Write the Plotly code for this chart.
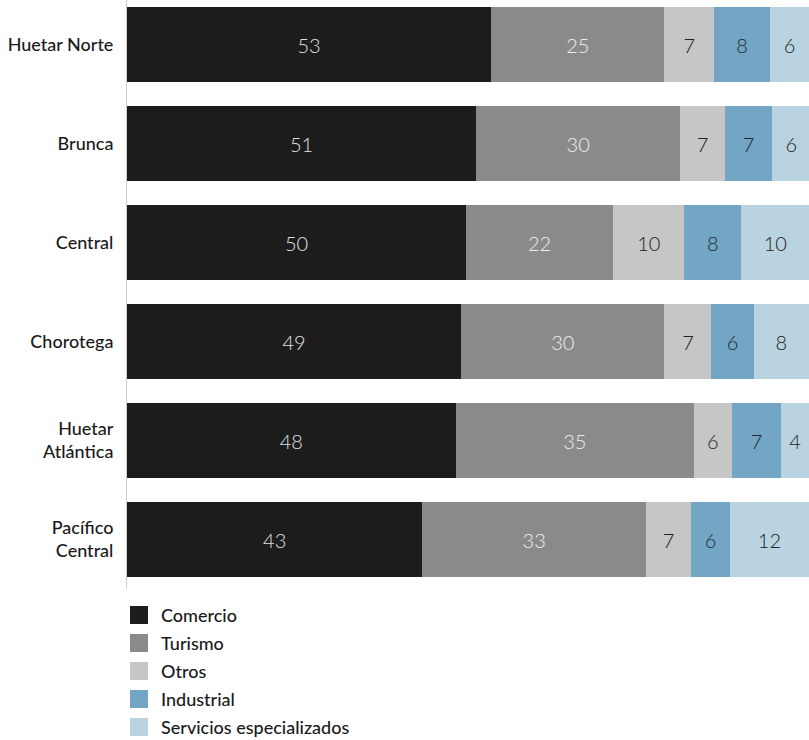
import plotly.graph_objects as go

regions = ["Huetar Norte", "Brunca", "Central", "Chorotega", "Huetar<br>Atlántica", "Pacífico<br>Central"]
series_names = ["Comercio", "Turismo", "Otros", "Industrial", "Servicios especializados"]
comercio = [53.4, 51.2, 49.7, 49.0, 48.2, 43.3]
turismo = [25.4, 29.9, 21.6, 29.8, 34.9, 32.8]
otros = [7.3, 6.6, 10.4, 6.9, 5.6, 6.6]
industrial = [8.2, 6.9, 8.4, 6.2, 7.2, 5.7]
servicios = [5.7, 5.6, 9.9, 8.1, 4.1, 11.6]
series_values = [comercio, turismo, otros, industrial, servicios]
colors = ["#1c1c1c", "#8a8a8a", "#c6c6c6", "#72a6c4", "#b9d3e0"]
text_colors = ["#e0e0e0", "#eeeeee", "#222222", "#1f2a33", "#222222"]

FONT = "Lato, Roboto, sans-serif"

fig = go.Figure()
for name, vals, col, tcol in zip(series_names, series_values, colors, text_colors):
    fig.add_trace(go.Bar(
        y=regions, x=vals, name=name, orientation="h",
        marker=dict(color=col, line=dict(width=0)),
        texttemplate="%{x:.0f}", textposition="inside", insidetextanchor="middle",
        textangle=0,
        textfont=dict(family=FONT, size=20, color=tcol, weight=300),
        showlegend=False, hoverinfo="skip",
    ))

# manual legend
W, H = 809, 740
ml, mr, mt, mb = 127, 0, 0, 151
ph = H - mt - mb
pw = W - ml - mr
shapes = []
annotations = []
for i, (name, col) in enumerate(zip(series_names, colors)):
    yc = 615 + i * 28
    y0 = (ph - (yc + 9)) / ph
    y1 = (ph - (yc - 9)) / ph
    x0 = (130 - ml) / pw
    x1 = (148 - ml) / pw
    shapes.append(dict(type="rect", xref="paper", yref="paper", x0=x0, x1=x1, y0=y0, y1=y1,
                       fillcolor=col, line=dict(width=0)))
    annotations.append(dict(xref="paper", yref="paper", x=(159 - ml) / pw, y=(ph - yc) / ph,
                            text=name, showarrow=False, xanchor="left", yanchor="middle",
                            font=dict(family=FONT, size=18, color="#1a1a1a", weight=500)))

fig.update_layout(
    width=W, height=H,
    margin=dict(l=ml, r=mr, t=mt, b=mb, pad=0),
    barmode="stack", bargap=0.242,
    plot_bgcolor="white", paper_bgcolor="white",
    shapes=shapes, annotations=annotations,
    uniformtext=dict(mode=False),
    xaxis=dict(range=[0, 100], visible=False, fixedrange=True, automargin=False),
    yaxis=dict(
        categoryorder="array", categoryarray=regions,
        range=[5.5, -0.4495], automargin=False,
        showline=True, linecolor="#cfcfcf", linewidth=1,
        showgrid=False, zeroline=False, ticks="",
        ticklabelstandoff=9,
        tickfont=dict(family=FONT, size=18, color="#1a1a1a", weight=500),
    ),
)

fig.write_html("out.html")
